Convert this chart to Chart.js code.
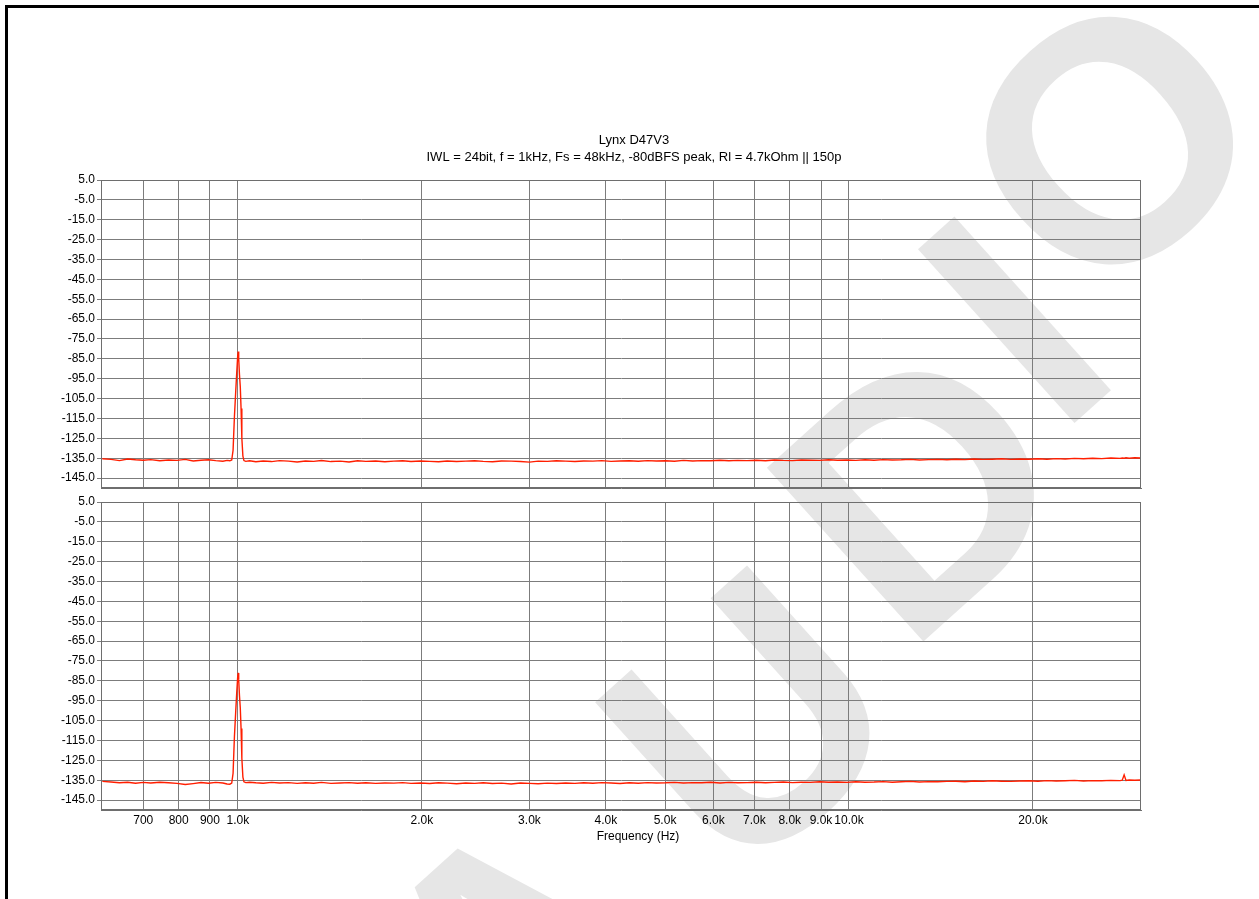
<!DOCTYPE html>
<html>
<head>
<meta charset="utf-8">
<script src="https://cdn.jsdelivr.net/npm/chart.js@4.4.1/dist/chart.umd.min.js"></script>
<style>
  html, body { margin: 0; padding: 0; background: #fff; }
  #cadre { position: relative; width: 1259px; height: 899px; overflow: hidden; }
  #cadre canvas { position: absolute; left: 0; top: 0; }
</style>
</head>
<body>
<div id="cadre">
  <canvas id="chart-haut" width="1259" height="899"></canvas>
  <canvas id="chart-bas" width="1259" height="899"></canvas>
</div>
<script>
// Données (Hz / dB)
const freqs = [
  600, 620, 640, 660, 680, 700, 720, 745, 770, 795,
  820, 845, 870, 895, 920, 945, 960, 970, 977, 982,
  987, 992, 996, 999, 1001, 1003, 1006, 1009, 1012, 1015,
  1019, 1023, 1030, 1045, 1070, 1100, 1135, 1170, 1210, 1250,
  1290, 1330, 1370, 1420, 1470, 1520, 1570, 1620, 1680, 1740,
  1800, 1860, 1920, 1990, 2060, 2130, 2200, 2280, 2360, 2440,
  2520, 2610, 2700, 2800, 2900, 3000, 3100, 3210, 3320, 3440,
  3560, 3680, 3810, 3940, 4080, 4220, 4370, 4520, 4680, 4840,
  5010, 5180, 5360, 5550, 5740, 5940, 6150, 6360, 6580, 6810,
  7050, 7300, 7550, 7810, 8080, 8360, 8650, 8950, 9260, 9580,
  9920, 10260, 10620, 10990, 11370, 11770, 12180, 12600, 13040, 13500,
  13970, 14460, 14960, 15480, 16020, 16580, 17160, 17760, 18380, 19020,
  19690, 20380, 21090, 21830, 22590, 23380, 24200, 25050, 25920, 26830,
  27770, 28000, 28200, 28400, 28740, 29350, 30000
];
const niveauHaut = [
  -135.3, -135.6, -136.2, -135.4, -135.8, -136.0, -135.7, -136.3, -135.9, -136.1,
  -135.6, -136.4, -136.0, -135.8, -136.2, -136.5, -136.1, -136.3, -135.9, -131.0,
  -114.0, -101.0, -91.0, -84.0, -81.3, -85.0, -93.0, -99.0, -110.0, -125.0,
  -134.0, -136.2, -136.6, -136.3, -136.8, -136.4, -136.7, -136.2, -136.5, -136.9,
  -136.4, -136.6, -136.2, -136.7, -136.5, -136.9, -136.3, -136.6, -136.4, -136.8,
  -136.5, -136.3, -136.7, -136.4, -136.6, -136.8, -136.4, -136.7, -136.5, -136.3,
  -136.6, -136.8, -136.4, -136.5, -136.7, -137.0, -136.5, -136.6, -136.3, -136.5,
  -136.7, -136.4, -136.5, -136.2, -136.6, -136.4, -136.3, -136.5, -136.2, -136.4,
  -136.3, -136.5, -136.1, -136.4, -136.2, -136.3, -136.0, -136.3, -136.1, -136.2,
  -136.0, -136.3, -135.9, -136.1, -136.2, -135.9, -136.0, -136.1, -135.8, -136.0,
  -135.9, -136.1, -135.8, -136.0, -135.7, -135.9, -135.8, -135.6, -135.9, -135.7,
  -135.6, -135.8, -135.5, -135.7, -135.4, -135.6, -135.5, -135.3, -135.6, -135.4,
  -135.5, -135.3, -135.5, -135.2, -135.4, -135.1, -135.3, -135.0, -135.2, -134.9,
  -135.1, -134.9, -135.0, -134.8, -135.0, -134.8, -134.9
];
const niveauBas = [
  -135.6, -135.9, -136.3, -136.0, -136.5, -136.1, -136.4, -136.0, -136.3, -136.6,
  -137.2, -136.7, -136.2, -136.5, -136.1, -136.4, -136.9, -137.0, -136.4, -131.5,
  -113.0, -100.0, -90.0, -83.5, -81.0, -84.5, -92.5, -98.5, -109.0, -124.0,
  -133.5, -135.8, -136.2, -136.0, -136.3, -136.5, -136.1, -136.4, -136.2, -136.6,
  -136.3, -136.5, -136.1, -136.6, -136.4, -136.2, -136.5, -136.3, -136.6, -136.4,
  -136.5, -136.2, -136.6, -136.4, -136.7, -136.3, -136.5, -136.8, -136.4, -136.6,
  -136.3, -136.7, -136.5, -136.9, -136.4, -136.6, -136.8, -136.5, -136.7, -136.4,
  -136.6, -136.3, -136.5, -136.2, -136.4, -136.7, -136.3, -136.5, -136.2, -136.4,
  -136.3, -136.1, -136.4, -136.2, -136.3, -136.0, -136.4, -136.1, -136.3, -136.2,
  -136.0, -136.3, -136.1, -135.9, -136.2, -136.0, -136.1, -135.8, -136.0, -135.9,
  -136.1, -135.8, -136.0, -135.9, -135.7, -136.0, -135.8, -135.6, -135.9, -135.7,
  -135.8, -135.6, -135.5, -135.8, -135.4, -135.6, -135.3, -135.5, -135.6, -135.4,
  -135.3, -135.5, -135.2, -135.4, -135.3, -135.1, -135.4, -135.2, -135.3, -135.1,
  -135.2, -135.0, -132.3, -135.1, -134.9, -135.0, -134.9
];
const xTicks = [700, 800, 900, 1000, 2000, 3000, 4000, 5000, 6000, 7000, 8000, 9000, 10000, 20000];
const yTicks = [5, -5, -15, -25, -35, -45, -55, -65, -75, -85, -95, -105, -115, -125, -135, -145];
const titre = ["Lynx D47V3", "IWL = 24bit, f = 1kHz, Fs = 48kHz, -80dBFS peak, Rl = 4.7kOhm || 150p"];

const POLICE = '"Liberation Sans", Arial, sans-serif';
const GRILLE = '#7c7c7c';

function formatFreq(v) {
  return v < 1000 ? String(v) : (v / 1000).toFixed(1) + 'k';
}

// cadre gris autour de la zone de tracé
const cadrePlugin = {
  id: 'cadrePlot',
  afterDatasetsDraw(chart) {
    const a = chart.chartArea, ctx = chart.ctx;
    ctx.save();
    ctx.strokeStyle = '#6e6e6e';
    ctx.lineWidth = 1;
    ctx.strokeRect(a.left + 0.5, a.top + 0.5, a.right - a.left - 1, a.bottom - a.top - 1);
    ctx.restore();
  }
};

// fond, filigrane, bordure noire et titre (canvas du haut)
const decorPlugin = {
  id: 'decor',
  beforeDraw(chart) {
    const ctx = chart.ctx;
    ctx.save();
    ctx.fillStyle = '#fff';
    ctx.fillRect(0, 0, chart.width, chart.height);
    ctx.fillStyle = '#e6e6e6';
    ctx.font = 'bold 340px ' + POLICE;
    ctx.textAlign = 'center';
    ctx.textBaseline = 'middle';
    const lettres = [['A', 530, 972], ['U', 765, 738], ['D', 935, 505], ['I', 1030, 337], ['O', 1126, 158]];
    lettres.forEach(([c, x, y]) => {
      ctx.save();
      ctx.translate(x, y);
      ctx.rotate(-42 * Math.PI / 180);
      ctx.fillText(c, 0, 0);
      ctx.restore();
    });
    ctx.fillStyle = '#000';
    ctx.fillRect(5, 5, chart.width - 5, 3);
    ctx.fillRect(5, 5, 3, chart.height - 5);
    ctx.restore();
  },
  afterDraw(chart) {
    const ctx = chart.ctx;
    ctx.save();
    ctx.fillStyle = '#000';
    ctx.font = '13px ' + POLICE;
    ctx.textAlign = 'center';
    ctx.textBaseline = 'middle';
    ctx.fillText(titre[0], 634, 140);
    ctx.fillText(titre[1], 634, 157);
    ctx.restore();
  }
};

const axeTitrePlugin = {
  id: 'axeTitre',
  afterDraw(chart) {
    const ctx = chart.ctx;
    ctx.save();
    ctx.fillStyle = '#000';
    ctx.font = '12px ' + POLICE;
    ctx.textAlign = 'center';
    ctx.textBaseline = 'middle';
    ctx.fillText('Frequency (Hz)', 638, 837);
    ctx.restore();
  }
};

function creerGraphique(id, valeurs, haut, bas, avecAxeX, plugins) {
  const ctx = document.getElementById(id).getContext('2d');
  return new Chart(ctx, {
    type: 'line',
    data: {
      datasets: [{
        data: freqs.map((f, i) => ({ x: f, y: valeurs[i] })),
        borderColor: '#ff1e00',
        borderWidth: 1.4,
        pointRadius: 0,
        tension: 0,
        fill: false
      }]
    },
    options: {
      responsive: false,
      animation: false,
      layout: { padding: { top: haut, bottom: 899 - bas - (avecAxeX ? 26 : 0), left: 0, right: 1259 - 1141 } },
      plugins: { legend: { display: false }, tooltip: { enabled: false }, title: { display: false } },
      scales: {
        x: {
          type: 'logarithmic',
          min: 597,
          max: 30050,
          afterBuildTicks: s => { s.ticks = xTicks.map(v => ({ value: v })); },
          afterFit: s => { s.height = avecAxeX ? 26 : 0; },
          ticks: {
            display: avecAxeX,
            autoSkip: false,
            maxRotation: 0,
            padding: 3,
            color: '#000',
            font: { family: POLICE, size: 12 },
            callback: v => formatFreq(v)
          },
          grid: { color: GRILLE, lineWidth: 1, drawTicks: false },
          border: { color: '#6e6e6e' }
        },
        y: {
          type: 'linear',
          min: -150,
          max: 5,
          afterBuildTicks: s => { s.ticks = yTicks.map(v => ({ value: v })); },
          afterFit: s => { s.width = 101; },
          ticks: {
            autoSkip: false,
            padding: 2,
            color: '#000',
            font: { family: POLICE, size: 12 },
            callback: v => v.toFixed(1)
          },
          grid: { color: GRILLE, lineWidth: 1, tickLength: 4 },
          border: { color: '#6e6e6e' }
        }
      }
    },
    plugins: plugins
  });
}

creerGraphique('chart-haut', niveauHaut, 180, 488, false, [decorPlugin, cadrePlugin]);
creerGraphique('chart-bas', niveauBas, 502, 810, true, [cadrePlugin, axeTitrePlugin]);
</script>
</body>
</html>
